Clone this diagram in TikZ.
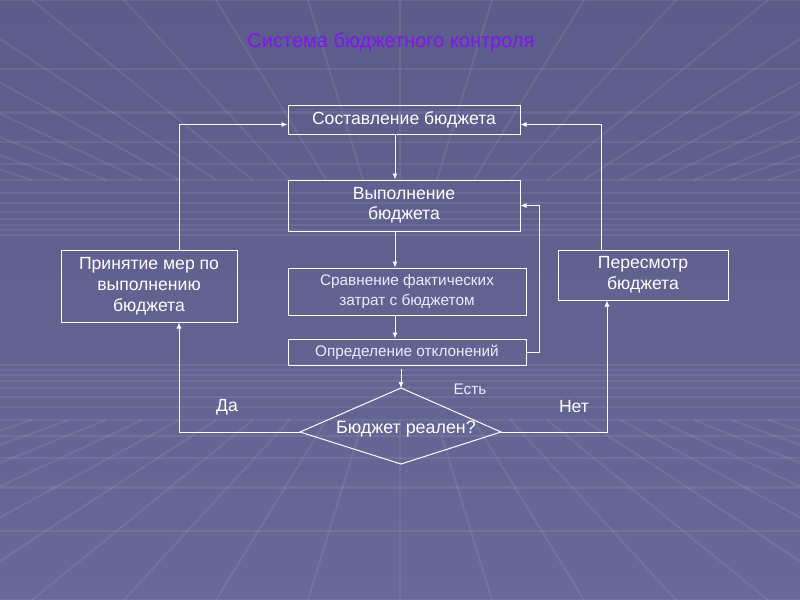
\documentclass[tikz,border=0pt]{standalone}
\usepackage{fontspec}
\setmainfont{Liberation Sans}
\usetikzlibrary{arrows.meta,calc}
\definecolor{bgtop}{RGB}{92,92,138}
\definecolor{bgmid}{RGB}{74,74,114}
\definecolor{bgbot}{RGB}{104,104,152}
\definecolor{titlecol}{RGB}{128,20,245}
\tikzset{
  box/.style={draw=white, line width=0.75pt, text=white, align=center, inner sep=0pt, font=\fontsize{13.2}{15}\selectfont},
  lightbox/.style={box, font=\fontsize{11.5}{15}\selectfont, text=white!92!blue},
  conn/.style={draw=white, line width=0.75pt},
  arr/.style={conn, -{Latex[length=4.5pt,width=3.8pt]}},
  lbl/.style={text=white, font=\fontsize{13.2}{15}\selectfont, inner sep=0pt},
  grid line/.style={white, opacity=0.07, line width=1.6pt}
}
\begin{document}
\begin{tikzpicture}[x=0.75pt,y=-0.75pt]
% background
\useasboundingbox (0,0) rectangle (800,600);
\shade[top color=bgtop, middle color=bgmid, bottom color=bgbot] (0,0) rectangle (800,600);
\begin{scope}
\clip (0,0) rectangle (800,600);
\foreach \n in {0,...,12}{
  \pgfmathsetmacro{\off}{300/(1+0.3*\n)}
  \draw[grid line] (0,300+\off) -- (800,300+\off);
  \draw[grid line] (0,300-\off) -- (800,300-\off);
}
\foreach \k in {-12,...,12}{
  \draw[grid line] (400+\k*92,600) -- ($(400+\k*92,600)!0.6!(400,300)$);
  \draw[grid line] (400+\k*92,0) -- ($(400+\k*92,0)!0.6!(400,300)$);
}
\end{scope}
% title
\node[text=titlecol, font=\fontsize{15}{18}\selectfont, inner sep=0pt] (title) at (391,42) {Система бюджетного контроля};
% boxes
\node[box, minimum width=174pt, minimum height=21.75pt] (sost) at (404,119.5) {Составление бюджета};
\node[box, minimum width=174pt, minimum height=38.25pt] (vyp) at (404,205.5) {Выполнение\\бюджета};
\node[lightbox, minimum width=178.5pt, minimum height=35.25pt] (srav) at (407,291.5) {Сравнение фактических\\затрат с бюджетом};
\node[lightbox, minimum width=178.5pt, minimum height=19.5pt] (opr) at (407,352) {Определение отклонений};
\node[box, minimum width=132pt, minimum height=54pt, font=\fontsize{13.2}{15.75}\selectfont] (prin) at (149,286) {Принятие мер по\\выполнению\\бюджета};
\node[box, minimum width=127.5pt, minimum height=37.5pt, font=\fontsize{13.2}{15.75}\selectfont] (per) at (643,275) {Пересмотр\\бюджета};
% diamond
\coordinate (dt) at (401,388);
\coordinate (dr) at (501,432);
\coordinate (db) at (401,464);
\coordinate (dl) at (300,432);
\draw[conn] (dt) -- (dr) -- (db) -- (dl) -- cycle;
\node[lbl, font=\fontsize{13.4}{15}\selectfont] (q) at (406,429) {Бюджет реален?};
% helper columns
\coordinate (c1) at (395,0);
\coordinate (c2) at (401,0);
\coordinate (c3) at (539,0);
\coordinate (c4) at (601,0);
\coordinate (c5) at (179,0);
\coordinate (c6) at (607,0);
% connectors
\draw[arr] (sost.south -| c1) -- (vyp.north -| c1);
\draw[arr] (vyp.south -| c1) -- (srav.north -| c1);
\draw[arr] (srav.south -| c1) -- (opr.north -| c1);
\draw[arr] ($(opr.south -| c2)+(0,3)$) -- (dt);
\draw[arr] (opr.east) -- (opr.east -| c3) |- (vyp.east);
\draw[arr] (per.north -| c4) |- ($(sost.east)+(0,5)$);
\draw[arr] (prin.north -| c5) |- ($(sost.west)+(0,5)$);
\draw[arr] (dl) -| (prin.south -| c5);
\draw[arr] (dr) -| (per.south -| c6);
% labels
\node[lbl] (da) at (227,407) {Да};
\node[lbl] (net) at (574,407) {Нет};
\node[lbl, font=\fontsize{11.5}{13}\selectfont, text=white!92!blue] (est) at (470,389) {Есть};
\end{tikzpicture}
\end{document}
